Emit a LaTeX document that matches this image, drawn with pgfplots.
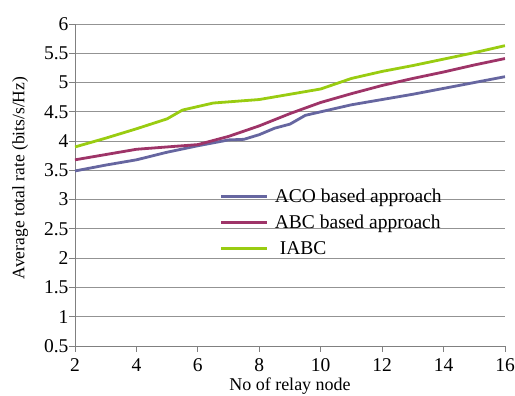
\documentclass[border=0pt]{standalone}
\usepackage{pgfplots}
\pgfplotsset{compat=1.18}
\usepackage{fontspec}
\setmainfont{Liberation Serif}
\definecolor{aco}{HTML}{6666A0}
\definecolor{abc}{HTML}{9E3468}
\definecolor{iabc}{HTML}{99CC11}
\newcommand{\cf}{\fontsize{19.5}{23}\selectfont}
\begin{document}
\begin{tikzpicture}
\begin{axis}[
  scale only axis, width=430pt, height=322pt,
  xmin=2, xmax=16, ymin=0.5, ymax=6,
  xtick={2,4,...,16}, ytick={0.5,1,...,6},
  axis lines*=left,
  axis line style={gray, line width=0.9pt},
  tick style={gray, line width=0.9pt},
  tick align=outside, major tick length=6pt,
  ymajorgrids, grid style={gray!85, line width=0.9pt},
  /pgf/number format/assume math mode=true,
  ticklabel style={font=\cf},
  yticklabel style={xshift=3pt},
  xticklabel style={yshift=-3pt},
  xlabel={No of relay node},
  ylabel={Average total rate (bits/s/Hz)},
  xlabel style={font=\fontsize{18}{21}\selectfont, yshift=1pt},
  ylabel style={font=\fontsize{17.5}{21}\selectfont, yshift=9pt, xshift=7pt},
  legend style={at={(0.33,0.50)}, anchor=north west, draw=none, fill=none,
    font=\cf, row sep=7pt},
  legend cell align=left,
  legend image code/.code={\draw[#1] (0pt,0pt) -- (45pt,0pt); \path (50pt,0pt);},
]
\coordinate (O) at (rel axis cs:0,0);
\addplot[aco, line width=2.8pt] coordinates {
 (2,3.49) (3,3.59) (4,3.68) (5,3.81) (6,3.92) (7,4.02) (7.5,4.03) (8,4.11)
 (8.5,4.22) (9,4.29) (9.5,4.44) (10,4.50) (11,4.62) (12,4.71) (13,4.80)
 (14,4.90) (15,5.00) (16,5.10)};
\addlegendentry{ACO based approach}
\addplot[abc, line width=2.8pt] coordinates {
 (2,3.68) (3,3.77) (4,3.86) (5,3.90) (6,3.94) (7,4.08) (8,4.26) (9,4.47)
 (10,4.66) (11,4.81) (12,4.95) (13,5.07) (14,5.18) (15,5.30) (16,5.41)};
\addlegendentry{ABC based approach}
\addplot[iabc, line width=2.8pt] coordinates {
 (2,3.90) (3,4.05) (4,4.21) (5,4.38) (5.5,4.53) (6.5,4.65) (8,4.71) (9,4.80)
 (10,4.89) (11,5.07) (12,5.19) (13,5.29) (14,5.40) (15,5.51) (16,5.63)};
\addlegendentry{\hspace{5pt}IABC}
\end{axis}
\pgfresetboundingbox
\path ([shift={(-75pt,-50pt)}]O) rectangle ([shift={(440pt,346pt)}]O);
\end{tikzpicture}
\end{document}
